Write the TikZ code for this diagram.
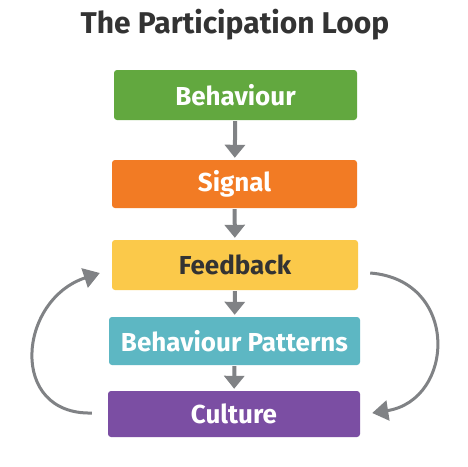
\documentclass[tikz,border=0pt]{standalone}
\usepackage{fontspec}
\setmainfont{Fira Sans}
\usetikzlibrary{arrows.meta}
\definecolor{cgreen}{HTML}{62A83F}
\definecolor{corange}{HTML}{F27B24}
\definecolor{cyellow}{HTML}{FBC94A}
\definecolor{cteal}{HTML}{5DB7C3}
\definecolor{cpurple}{HTML}{7B4EA3}
\definecolor{cgray}{HTML}{808285}
\definecolor{ctitle}{HTML}{333333}
\tikzset{
  stagebox/.style={rounded corners=3pt, inner sep=0pt, font=\bfseries\fontsize{26}{30}\selectfont, text=white},
  downarrow/.style={draw=cgray, line width=4pt, -{Triangle[width=20pt,length=13pt]}, shorten >=2pt, shorten <=1pt},
  looparrow/.style={draw=cgray, line width=3pt, -{Triangle[width=20pt,length=16pt]}}
}
\begin{document}
\begin{tikzpicture}[x=1pt,y=-1pt]
\useasboundingbox[fill=white] (0,0) rectangle (468,466);
\node[font=\bfseries\fontsize{30}{35}\selectfont, text=ctitle] (title) at (235,25) {The Participation Loop};
\node[stagebox, fill=cgreen, minimum width=243pt, minimum height=50pt] (beh) at (235.5,95) {Behaviour};
\node[stagebox, fill=corange, minimum width=245pt, minimum height=48pt] (sig) at (234.5,184) {Signal};
\node[stagebox, fill=cyellow, text=ctitle, minimum width=246pt, minimum height=50pt] (fb) at (235,265) {Feedback};
\node[stagebox, fill=cteal, minimum width=251pt, minimum height=48pt] (bp) at (234.5,341) {Behaviour Patterns};
\node[stagebox, fill=cpurple, minimum width=252pt, minimum height=46pt] (cul) at (234,414) {Culture};
\draw[downarrow] (beh) -- (sig);
\draw[downarrow] (sig) -- (fb);
\draw[downarrow] (fb) -- (bp);
\draw[downarrow] (bp) -- (cul);
\draw[looparrow] ([xshift=-16pt,yshift=1pt]cul.west) .. controls (8,415) and (18,300) .. ([xshift=-12pt,yshift=-8pt]fb.west);
\draw[looparrow] ([xshift=12pt,yshift=-8pt]fb.east) .. controls (460,280) and (455,400) .. ([xshift=12pt,yshift=1pt]cul.east);
\end{tikzpicture}
\end{document}
